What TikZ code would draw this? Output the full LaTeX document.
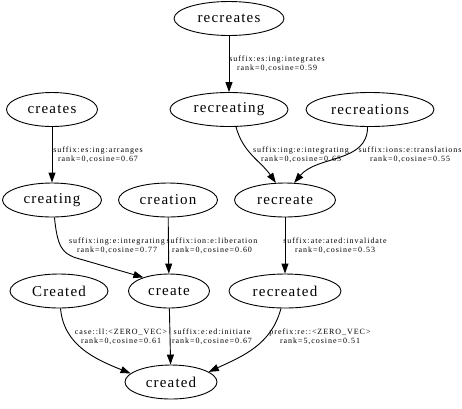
\documentclass[tikz,border=0pt]{standalone}
\usepackage{fontspec}
\setmainfont{Liberation Serif}
\newfontfamily\nodefont[LetterSpace=8]{Liberation Serif}
\newfontfamily\lblfont[LetterSpace=12]{Liberation Serif}
\usetikzlibrary{shapes.geometric,arrows.meta}
\begin{document}
\begin{tikzpicture}[x=1pt,y=-1pt,
 word/.style={ellipse,draw,line width=0.9pt,inner sep=0pt,minimum height=34pt,font=\nodefont\fontsize{15}{15}\selectfont},
 lbl/.style={align=center,inner sep=0pt,font=\lblfont\fontsize{8}{9.3}\selectfont},
 arr/.style={draw,line width=0.9pt,-{Triangle[length=10pt,width=7pt]}}]
\useasboundingbox (0,0) rectangle (462,408);
\node[word,minimum width=110pt] (recreates) at (229,18.5) {recreates};
\node[word,minimum width=91pt] (creates) at (52,109.5) {creates};
\node[word,minimum width=118pt] (recreating) at (229,109.5) {recreating};
\node[word,minimum width=128pt] (recreations) at (370,109.5) {recreations};
\node[word,minimum width=99pt] (creating) at (52,200) {creating};
\node[word,minimum width=99pt] (creation) at (168,200) {creation};
\node[word,minimum width=101pt] (recreate) at (285,200) {recreate};
\node[word,minimum width=98pt] (Created) at (59,291) {Created};
\node[word,minimum width=81pt] (create) at (169,291) {create};
\node[word,minimum width=112pt] (recreated) at (285,291) {recreated};
\node[word,minimum width=92pt] (created) at (171,382) {created};

\draw[arr] (recreates) -- (recreating);
\draw[arr] (creates) -- (creating);
\draw[arr] (creation) -- (create);
\draw[arr] (recreate) -- (recreated);
\draw[arr] (create) -- (created);
\draw[arr] (recreating.-68) to[out=-75,in=125] (recreate.118);
\draw[arr] (recreations.-98) to[out=-90,in=50] (recreate.62);
\draw[arr] (creating.-82) .. controls +(3,30) and +(-12,-5) .. +(20,40) -- (create.152);
\draw[arr] (Created.-85) to[out=-85,in=158] (created.168);
\draw[arr] (recreated.-103) to[out=-105,in=25] (created.15);

\node[lbl] (l1) at (277,63.5) {suffix:es:ing:integrates\\rank=0,cosine=0.59};
\node[lbl] (l2) at (98,155) {suffix:es:ing:arranges\\rank=0,cosine=0.67};
\node[lbl] (l3) at (301,155) {suffix:ing:e:integrating\\rank=0,cosine=0.65};
\node[lbl] (l4) at (410,155) {suffix:ions:e:translations\\rank=0,cosine=0.55};
\node[lbl] (l5) at (117,245.5) {suffix:ing:e:integrating\\rank=0,cosine=0.77};
\node[lbl] (l6) at (212,245.5) {suffix:ion:e:liberation\\rank=0,cosine=0.60};
\node[lbl] (l7) at (335,245.5) {suffix:ate:ated:invalidate\\rank=0,cosine=0.53};
\node[lbl] (l8) at (121,336.5) {case::ll:<ZERO\_VEC>\\rank=0,cosine=0.61};
\node[lbl] (l9) at (212,336.5) {suffix:e:ed:initiate\\rank=0,cosine=0.67};
\node[lbl] (l10) at (320,336.5) {prefix:re::<ZERO\_VEC>\\rank=5,cosine=0.51};
\end{tikzpicture}
\end{document}
